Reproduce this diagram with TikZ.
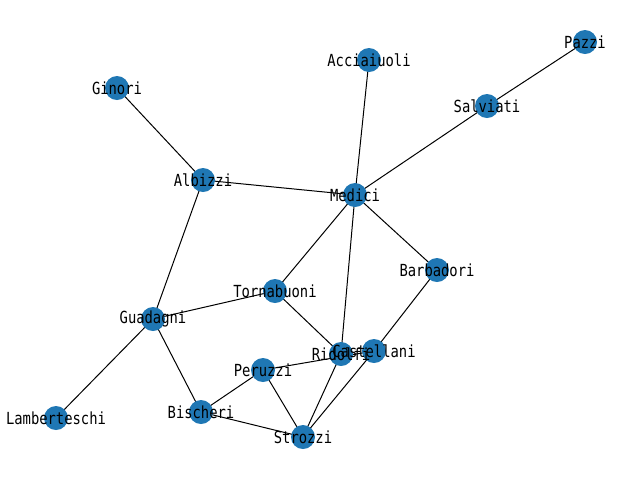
\documentclass[tikz,border=0pt]{standalone}
\usepackage{fontspec}
\newfontfamily\lblfont[FakeStretch=0.83]{DejaVu Sans Mono}
\definecolor{nodeblue}{HTML}{1F77B4}
\begin{document}
\begin{tikzpicture}[x=0.75pt,y=-0.75pt,
  fam/.style={circle,fill=nodeblue,minimum size=18pt,inner sep=0pt},
  lbl/.style={font=\lblfont\fontsize{12.5}{13}\selectfont,text=black,inner sep=0pt},
  edge/.style={draw=black,line width=0.75pt}]
\useasboundingbox (0,0) rectangle (640,480);
\coordinate (Acciaiuoli) at (369,60);
\coordinate (Pazzi) at (585,42);
\coordinate (Salviati) at (487,106);
\coordinate (Ginori) at (117,88);
\coordinate (Albizzi) at (203,180);
\coordinate (Medici) at (355,195);
\coordinate (Barbadori) at (437,270);
\coordinate (Tornabuoni) at (275,291);
\coordinate (Guadagni) at (153,319);
\coordinate (Ridolfi) at (341,354);
\coordinate (Castellani) at (374,351);
\coordinate (Peruzzi) at (263,370);
\coordinate (Lamberteschi) at (56,418);
\coordinate (Bischeri) at (201,412);
\coordinate (Strozzi) at (303,437);
\foreach \a/\b in {Acciaiuoli/Medici, Medici/Barbadori, Medici/Ridolfi, Medici/Tornabuoni, Medici/Albizzi, Medici/Salviati, Castellani/Peruzzi, Castellani/Strozzi, Castellani/Barbadori, Peruzzi/Strozzi, Peruzzi/Bischeri, Strozzi/Ridolfi, Strozzi/Bischeri, Ginori/Albizzi, Albizzi/Guadagni, Guadagni/Lamberteschi, Guadagni/Bischeri, Guadagni/Tornabuoni, Tornabuoni/Ridolfi, Salviati/Pazzi}
  \draw[edge] (\a) -- (\b);
\foreach \n in {Acciaiuoli,Pazzi,Salviati,Ginori,Albizzi,Medici,Barbadori,Tornabuoni,Guadagni,Ridolfi,Castellani,Peruzzi,Lamberteschi,Bischeri,Strozzi}
  \node[fam] (n\n) at (\n) {};
\foreach \n in {Acciaiuoli,Pazzi,Salviati,Ginori,Albizzi,Medici,Barbadori,Tornabuoni,Guadagni,Ridolfi,Castellani,Peruzzi,Lamberteschi,Bischeri,Strozzi}
  \node[lbl] (t\n) at (\n) {\n};
\end{tikzpicture}
\end{document}
